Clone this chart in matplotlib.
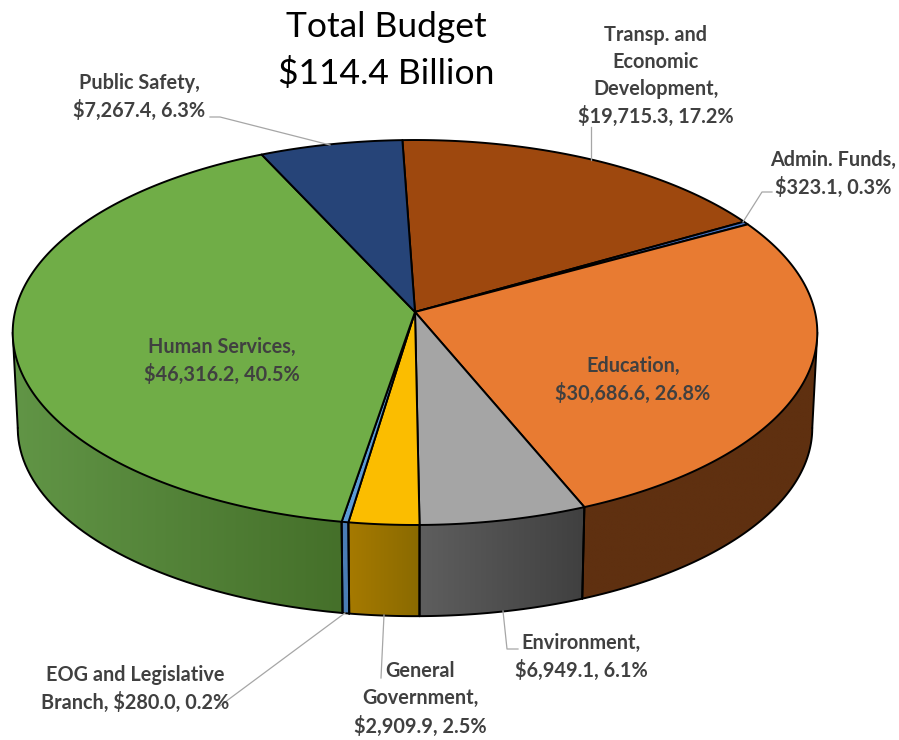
import matplotlib
matplotlib.use("Agg")
import matplotlib.pyplot as plt
from matplotlib.colors import to_rgb
from matplotlib.patches import Polygon
import numpy as np

plt.rcParams['font.family'] = ['Lato', 'DejaVu Sans']

# Data, clockwise from the back of the pie
names = ["Transp. and\nEconomic\nDevelopment,", "Admin. Funds,", "Education,", "Environment,",
         "General\nGovernment,", "EOG and Legislative\nBranch,", "Human Services,", "Public Safety,"]
values = [19715.3, 323.1, 30686.6, 6949.1, 2909.9, 280.0, 46316.2, 7267.4]
shares = [17.2, 0.3, 26.8, 6.1, 2.5, 0.2, 40.5, 6.3]
same_line = [False, False, False, False, False, True, False, False]

top_colors = ["#9E480E", "#4472C4", "#E87B32", "#A5A5A5", "#FBBD00", "#5B9BD5", "#70AD47", "#264478"]
side_left = ["#5F3010", "#2F4F88", "#5F3010", "#5E5E5E", "#A67A00", "#4A7DB5", "#619546", "#1A2F54"]
side_right = ["#5F3010", "#2F4F88", "#5F3010", "#404040", "#8A6A00", "#4A7DB5", "#45702A", "#1A2F54"]

label_pos = [(656, 76), (833, 174), (633, 380), (581, 657), (420, 699), (135, 689), (222, 361), (139, 97)]
leaders = [[(591, 127), (591, 160)],
           [(772, 192), (762, 192), (743, 222)],
           [(518, 649), (507, 649), (503, 611)],
           [(381, 678), (384, 615)],
           [(217, 708), (345, 613)],
           [(210, 117), (220, 117), (330, 145)]]

# Perspective of the disc, in pixels
start_angle = -2.0
cx = 415
k = 0.1065
top_apex, top_a, top_b = 312, 400, 190.3
bot_apex, bot_a, bot_b = 408, 395, 186


def project(angle, radius, apex, a, b):
    t = np.radians(angle)
    x = radius * np.sin(t)
    y = radius * np.cos(t)
    s = 1 + k * y
    return cx + a * x / s, apex - b * y / s


def top_rim(angle):
    return project(angle, 1.0, top_apex, top_a, top_b)


def bottom_rim(angle):
    return project(angle, 1.0, bot_apex, bot_a, bot_b)


edges = start_angle + 360 * np.concatenate([[0], np.cumsum(values)]) / np.sum(values)
vis_start = 96.1
vis_end = 263.9

fig = plt.figure(figsize=(8.99, 7.4), dpi=100)
ax = fig.add_axes([0, 0, 1, 1])

# Side wall
for i in range(len(values)):
    a0 = max(edges[i], vis_start)
    a1 = min(edges[i + 1], vis_end)
    if a1 <= a0:
        continue
    steps = np.linspace(a0, a1, max(int((a1 - a0) * 2), 2))
    xt, yt = top_rim(steps)
    xb, yb = bottom_rim(steps)
    xs = np.concatenate([xt, xb[::-1]])
    ys = np.concatenate([yt, yb[::-1]])
    wall = Polygon(np.column_stack([xs, ys]), closed=True, facecolor="none", edgecolor="none")
    ax.add_patch(wall)
    c_l, c_r = np.array(to_rgb(side_left[i])), np.array(to_rgb(side_right[i]))
    grad = np.linspace(0, 1, 64)[None, :, None] * (c_r - c_l) + c_l
    im = ax.imshow(grad, extent=(xs.min(), xs.max(), ys.max(), ys.min()), aspect="auto",
                   interpolation="bilinear", zorder=1)
    im.set_clip_path(wall)
    ax.plot(xb, yb, color="black", lw=1.4, zorder=2, solid_capstyle="round")
    for a in (a0, a1):
        xa, ya = top_rim(a)
        xc, yc = bottom_rim(a)
        ax.plot([xa, xc], [ya, yc], color="black", lw=1.4, zorder=2, solid_capstyle="round")

# Top face
for i in range(len(values)):
    steps = np.linspace(edges[i], edges[i + 1], max(int((edges[i + 1] - edges[i]) * 2), 2))
    xt, yt = top_rim(steps)
    ax.fill(np.concatenate([[cx], xt]), np.concatenate([[top_apex], yt]),
            facecolor=top_colors[i], edgecolor="black", linewidth=1.4,
            joinstyle="round", zorder=3)

# Leader lines
for line in leaders:
    ax.plot([p[0] for p in line], [p[1] for p in line], color="#A6A6A6", lw=0.9, zorder=4)

# Labels
for i in range(len(values)):
    sep = " " if same_line[i] else "\n"
    amount = f"${values[i]:,.1f}, {shares[i]:.1f}%"
    ax.text(label_pos[i][0], label_pos[i][1], names[i] + sep + amount, ha="center", va="center",
            fontsize=14.3, fontweight="bold", color="#404040", linespacing=1.44, zorder=5)

ax.text(386, 50.5, "Total Budget\n$114.4 Billion", ha="center", va="center", fontsize=25.5,
        color="black", linespacing=1.53, zorder=5)

ax.set_xlim(0, 899)
ax.set_ylim(740, 0)
ax.axis("off")

fig.savefig("out.png", dpi=100)
